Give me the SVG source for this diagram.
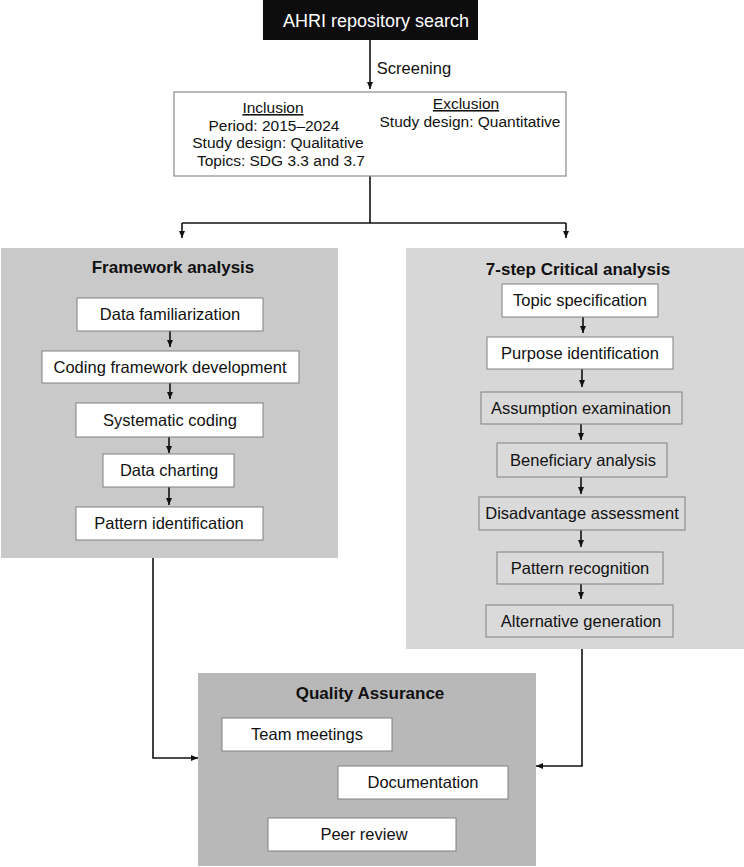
<svg xmlns="http://www.w3.org/2000/svg" width="744" height="867" viewBox="0 0 744 867">
<defs>
<marker id="ah" markerWidth="8" markerHeight="8" refX="7" refY="4" orient="auto" markerUnits="userSpaceOnUse">
<path d="M0,1 L7,4 L0,7 Z" fill="#111"/>
</marker>
<style>
text{font-family:"Liberation Sans",Arial,sans-serif;fill:#111;text-anchor:middle}
.t{font-size:16.5px}
.s{font-size:15.5px}
.h{font-size:17px;font-weight:bold}
.box{fill:#fff;stroke:#808080;stroke-width:1}
.gbox{fill:#dadada;stroke:#808080;stroke-width:1}
.con{fill:none;stroke:#111;stroke-width:1.6;marker-end:url(#ah)}
</style>
</defs>
<rect width="744" height="867" fill="#fff"/>

<g id="panels">
<rect id="framework-panel" x="1" y="248" width="337" height="310" fill="#c9c9c9"/>
<rect id="critical-panel" x="406" y="248" width="338" height="401" fill="#d7d7d7"/>
<rect id="qa-panel" x="198" y="673" width="338" height="193" fill="#b8b8b8"/>
</g>

<g id="connectors">
<line class="con" x1="370" y1="40" x2="370" y2="89"/>
<polyline points="370,176 370,223" fill="none" stroke="#111" stroke-width="1.6"/>
<line x1="182" y1="223" x2="566" y2="223" stroke="#111" stroke-width="1.6"/>
<line class="con" x1="182" y1="223" x2="182" y2="238"/>
<line class="con" x1="566" y1="223" x2="566" y2="238"/>
<line class="con" x1="170" y1="331" x2="170" y2="347"/>
<line class="con" x1="170" y1="383" x2="170" y2="399"/>
<line class="con" x1="169" y1="437" x2="169" y2="453"/>
<line class="con" x1="169" y1="487" x2="169" y2="505"/>
<line class="con" x1="583" y1="317" x2="583" y2="333"/>
<line class="con" x1="582" y1="369" x2="582" y2="387"/>
<line class="con" x1="581" y1="424" x2="581" y2="440"/>
<line class="con" x1="581" y1="477" x2="581" y2="494"/>
<line class="con" x1="581" y1="530" x2="581" y2="547"/>
<line class="con" x1="581" y1="584" x2="581" y2="599"/>
<polyline class="con" points="153,558 153,758 198,758"/>
<polyline class="con" points="582,649 582,766 536,766"/>
</g>

<g id="search">
<rect x="263" y="0" width="215" height="40" fill="#0d0d0d"/>
<text x="376" y="27" style="font-size:18px;fill:#fff">AHRI repository search</text>
</g>
<g id="screening-label">
<text x="414" y="74" class="t">Screening</text>
</g>

<g id="criteria">
<rect x="174" y="92" width="392" height="84" fill="#fff" stroke="#8a8a8a" stroke-width="1.2"/>
<text x="273" y="113" class="s" text-decoration="underline">Inclusion</text>
<text x="274" y="131" class="s">Period: 2015–2024</text>
<text x="278" y="148" class="s">Study design: Qualitative</text>
<text x="281" y="166" class="s">Topics: SDG 3.3 and 3.7</text>
<text x="466" y="109" class="s" text-decoration="underline">Exclusion</text>
<text x="470" y="127" class="s">Study design: Quantitative</text>
</g>

<g id="framework-title"><text x="173" y="273" class="h">Framework analysis</text></g>
<g id="data-familiarization"><rect class="box" x="77" y="298" width="186" height="33"/><text x="170" y="320" class="t">Data familiarization</text></g>
<g id="coding-framework"><rect class="box" x="42" y="351" width="257" height="32"/><text x="170" y="373" class="t">Coding framework development</text></g>
<g id="systematic-coding"><rect class="box" x="76" y="403" width="187" height="34"/><text x="170" y="426" class="t">Systematic coding</text></g>
<g id="data-charting"><rect class="box" x="103" y="454" width="131" height="33"/><text x="169" y="476" class="t">Data charting</text></g>
<g id="pattern-identification"><rect class="box" x="76" y="507" width="187" height="33"/><text x="169" y="529" class="t">Pattern identification</text></g>

<g id="critical-title"><text x="578" y="275" class="h">7-step Critical analysis</text></g>
<g id="topic-specification"><rect class="box" x="502" y="284" width="156" height="33"/><text x="580" y="306" class="t">Topic specification</text></g>
<g id="purpose-identification"><rect class="box" x="487" y="337" width="186" height="32"/><text x="580" y="359" class="t">Purpose identification</text></g>
<g id="assumption-examination"><rect class="gbox" x="481" y="392" width="201" height="32"/><text x="581" y="414" class="t">Assumption examination</text></g>
<g id="beneficiary-analysis"><rect class="gbox" x="497" y="443" width="170" height="34"/><text x="583" y="466" class="t">Beneficiary analysis</text></g>
<g id="disadvantage-assessment"><rect class="gbox" x="479" y="497" width="206" height="33"/><text x="582" y="519" class="t">Disadvantage assessment</text></g>
<g id="pattern-recognition"><rect class="gbox" x="497" y="552" width="166" height="32"/><text x="580" y="574" class="t">Pattern recognition</text></g>
<g id="alternative-generation"><rect class="gbox" x="486" y="605" width="187" height="32"/><text x="581" y="627" class="t">Alternative generation</text></g>

<g id="qa-title"><text x="370" y="699" class="h">Quality Assurance</text></g>
<g id="team-meetings"><rect class="box" x="222" y="718" width="170" height="33"/><text x="307" y="740" class="t">Team meetings</text></g>
<g id="documentation"><rect class="box" x="338" y="766" width="170" height="33"/><text x="423" y="788" class="t">Documentation</text></g>
<g id="peer-review"><rect class="box" x="268" y="818" width="188" height="33"/><text x="364" y="840" class="t">Peer review</text></g>
</svg>
